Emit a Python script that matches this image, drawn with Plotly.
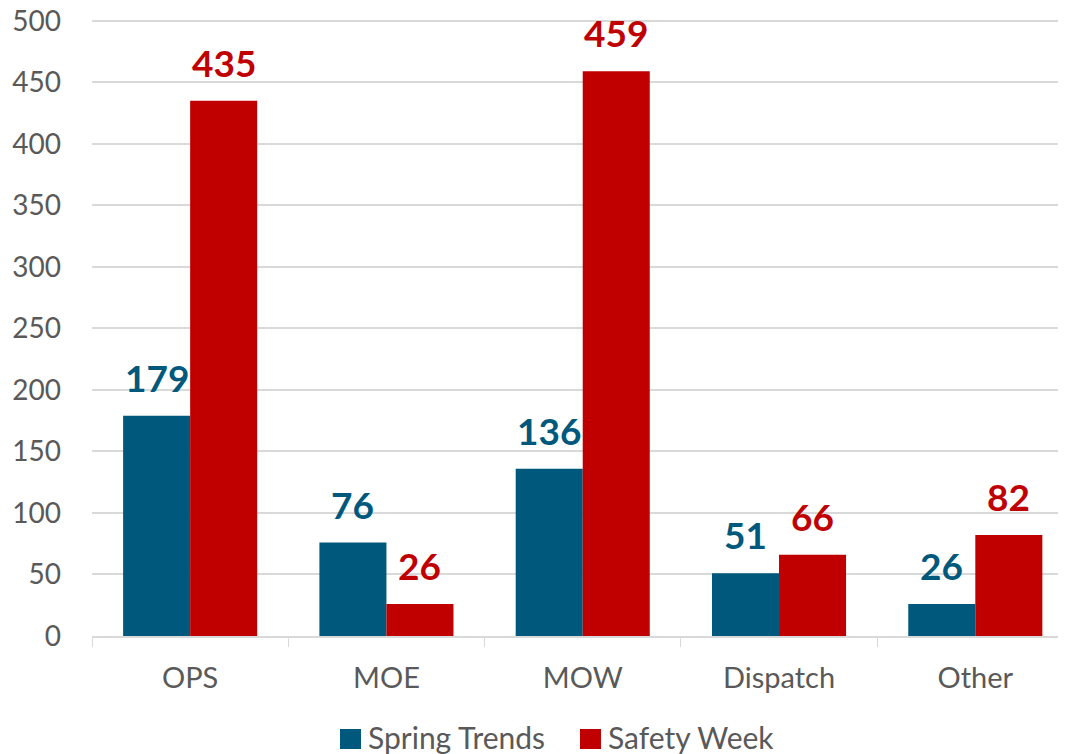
import plotly.graph_objects as go

categories = ["OPS", "MOE", "MOW", "Dispatch", "Other"]
spring_trends = [179, 76, 136, 51, 26]
safety_week = [435, 26, 459, 66, 82]
series_names = ["Spring Trends", "Safety Week"]
y_ticks = list(range(0, 501, 50))

BLUE = "#00587c"
RED = "#c00000"
FONT = "Lato, 'Open Sans', sans-serif"
GREY_TEXT = "#595959"

W, H = 1058, 746
ML, MT, MR, MB = 84, 11, 0, 118
PW, PH = W - ML - MR, H - MT - MB
Y_TOP = 501.5  # a little headroom so the 500 gridline is not clipped at the edge

fig = go.Figure()
for name, vals, col in ((series_names[0], spring_trends, BLUE), (series_names[1], safety_week, RED)):
    fig.add_trace(go.Bar(name=name, x=categories, y=vals, showlegend=False,
                         marker=dict(color=col, line=dict(width=0))))

bargap = 0.317
half = (1 - bargap) / 4
annotations = []
for i, (a, b) in enumerate(zip(spring_trends, safety_week)):
    for val, off, col in ((a, -half, BLUE), (b, half, RED)):
        annotations.append(dict(x=i + off, y=val, xref="x", yref="y", text=str(val),
                                showarrow=False, yanchor="bottom", yshift=14,
                                font=dict(family=FONT, size=37, color=col, weight="bold")))

# manual legend (figure-pixel positions converted to paper coordinates)
def px(x):
    return (x - ML) / PW

def py(y):
    return (MT + PH - y) / PH

shapes = []
legend_items = [(series_names[0], BLUE, 332), (series_names[1], RED, 572)]
for name, col, x0 in legend_items:
    shapes.append(dict(type="rect", xref="paper", yref="paper",
                       x0=px(x0), x1=px(x0 + 21), y0=py(741), y1=py(721),
                       fillcolor=col, line=dict(width=0)))
    annotations.append(dict(x=px(x0 + 26), y=py(729), xref="paper", yref="paper",
                            text=name, showarrow=False, xanchor="left", yanchor="middle",
                            font=dict(family=FONT, size=30, color=GREY_TEXT)))

fig.update_layout(
    width=W, height=H,
    margin=dict(l=ML, r=MR, t=MT, b=MB, autoexpand=False),
    plot_bgcolor="white", paper_bgcolor="white",
    barmode="group", bargap=bargap, bargroupgap=0,
    font=dict(family=FONT, color=GREY_TEXT, size=28),
    annotations=annotations, shapes=shapes,
    showlegend=False,
    xaxis=dict(range=[-0.5, 4.462], showgrid=False, showline=True, automargin=False,
               linecolor="#d9d9d9", linewidth=1.5, ticks="outside",
               tickson="boundaries", ticklen=9, tickcolor="#d9d9d9",
               tickfont=dict(size=29, color=GREY_TEXT), ticklabelstandoff=15),
    yaxis=dict(range=[0, Y_TOP], tickvals=y_ticks, showgrid=True, automargin=False,
               gridcolor="#d9d9d9", gridwidth=1.5, zeroline=False, showline=False,
               ticklabeloverflow="allow",
               tickfont=dict(size=28, color=GREY_TEXT), ticklabelstandoff=30),
)

fig.write_html("out.html")
